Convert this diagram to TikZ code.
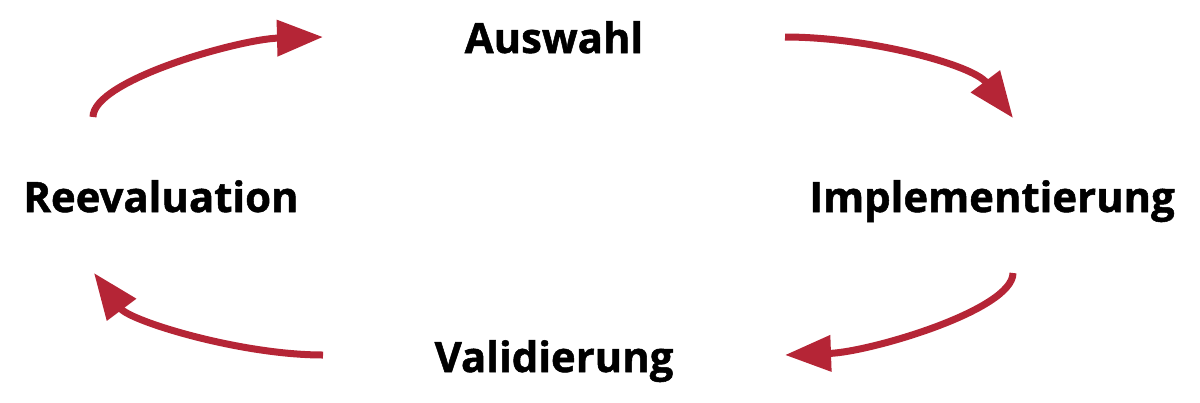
\documentclass[tikz,border=0pt]{standalone}
\usepackage{fontspec}
\setmainfont{Open Sans}[BoldFeatures={FakeBold=1.2}]
\usetikzlibrary{arrows.meta}
\definecolor{cyclered}{RGB}{181,37,54}
\begin{document}
\begin{tikzpicture}[x=1bp,y=-1bp,
  lab/.style={anchor=base,inner sep=0pt,font=\fontsize{42}{50}\selectfont\bfseries,text=black},
  cyc/.style={draw=cyclered,line width=7bp,-{Triangle[length=46bp,width=35bp]}}]
\useasboundingbox (0,0) rectangle (1200,402);
\node[lab] (aus) at (554,53) {Auswahl};
\node[lab] (imp) at (992,212) {Implementierung};
\node[lab] (ree) at (161,212) {Reevaluation};
\node[lab] (val) at (554,372) {Validierung};
\coordinate (a1s) at (93,117);  \coordinate (a1e) at (323,37);
\coordinate (a2s) at (785,37);  \coordinate (a2e) at (1013,118);
\coordinate (a3s) at (1013,273); \coordinate (a3e) at (785,355);
\coordinate (a4s) at (323,355); \coordinate (a4e) at (94,273);
\draw[cyc] (a1s) .. controls (93,80) and (240,39) .. (a1e);
\draw[cyc] (a2s) .. controls (870,37) and (973,65) .. (a2e);
\draw[cyc] (a3s) .. controls (1013,310) and (870,352) .. (a3e);
\draw[cyc] (a4s) .. controls (240,355) and (130,321) .. (a4e);
\end{tikzpicture}
\end{document}
